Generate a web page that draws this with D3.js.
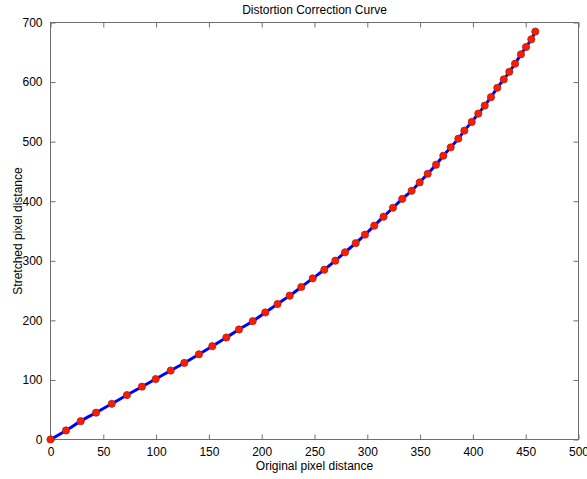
<!DOCTYPE html>
<html><head><meta charset="utf-8">
<script src="https://cdn.jsdelivr.net/npm/d3@7"></script>
<style>body{margin:0;background:#fff}svg{display:block}text{font-family:"Liberation Sans",Arial,sans-serif}</style>
</head><body><svg id="c" width="587" height="479"></svg>
<script>
const xValues = [0, 14.7, 28.6, 43.1, 58.0, 72.4, 86.6, 99.6, 113.8, 126.7, 140.6, 153.2, 166.5, 178.5, 191.5, 203.4, 215, 226.5, 237.5, 248.3, 259.3, 269.7, 278.9, 289.0, 297.8, 306.6, 315.4, 324.3, 333.1, 342.0, 349.6, 357.2, 365.1, 372.0, 379.0, 386.2, 391.9, 398.9, 405.1, 411.2, 417.1, 423.1, 429.2, 434.5, 439.9, 445.5, 450.3, 455.3, 459.1];
const yValues = [0, 15.2, 30.8, 45, 60, 74.6, 88.7, 101.5, 115.7, 128.5, 143.1, 156.6, 171.2, 184.7, 198.7, 213.3, 227.5, 241.5, 256, 270.5, 285.0, 300.2, 314.3, 329.5, 343.9, 359, 374, 389, 404.0, 417.5, 431.5, 446.1, 461.3, 476.4, 490.4, 505.0, 518.5, 533.1, 547.1, 560.6, 574.6, 590.4, 604.4, 617.3, 630.8, 646.5, 658.8, 671.7, 684.7];
const xTicks = [0, 50, 100, 150, 200, 250, 300, 350, 400, 450, 500];
const yTicks = [0, 100, 200, 300, 400, 500, 600, 700];
const title = "Distortion Correction Curve";
const xLabel = "Original pixel distance";
const yLabel = "Stretched pixel distance";

const svg = d3.select("#c");
const L = 50.5, R = 578.5, T = 22.5, B = 439.5;
const x = d3.scaleLinear().domain([0, 500]).range([L, R]);
const y = d3.scaleLinear().domain([0, 700]).range([B, T]);
const data = xValues.map((v, i) => [v, yValues[i]]);
const axCol = "#6e6e6e";

function styleAxis(g, hideText) {
  g.select(".domain").remove();
  g.selectAll(".tick line").attr("stroke", axCol);
  g.selectAll(".tick text").attr("fill", "#000").style("font-size", "12px");
  if (hideText) g.selectAll(".tick text").remove();
}
svg.append("g").attr("transform", `translate(0,${B})`)
  .call(d3.axisBottom(x).tickValues(xTicks).tickSize(-5).tickPadding(8).tickFormat(d3.format("d")))
  .call(g => styleAxis(g, false));
svg.append("g").attr("transform", `translate(0,${T})`)
  .call(d3.axisTop(x).tickValues(xTicks).tickSize(-5))
  .call(g => styleAxis(g, true));
svg.append("g").attr("transform", `translate(${L},0)`)
  .call(d3.axisLeft(y).tickValues(yTicks).tickSize(-5).tickPadding(8).tickFormat(d3.format("d")))
  .call(g => styleAxis(g, false));
svg.append("g").attr("transform", `translate(${R},0)`)
  .call(d3.axisRight(y).tickValues(yTicks).tickSize(-5))
  .call(g => styleAxis(g, true));
svg.append("rect").attr("x", L).attr("y", T).attr("width", R - L).attr("height", B - T)
  .attr("fill", "none").attr("stroke", axCol).attr("stroke-width", 1);

svg.append("path").datum(data)
  .attr("d", d3.line().x(d => x(d[0])).y(d => y(d[1])).curve(d3.curveMonotoneX))
  .attr("fill", "none").attr("stroke", "#0000ff").attr("stroke-width", 3);

svg.append("g").selectAll("circle").data(data).join("circle")
  .attr("cx", d => x(d[0])).attr("cy", d => y(d[1])).attr("r", 3.6)
  .attr("fill", "#ff1a00").attr("stroke", "#a02a10").attr("stroke-width", 0.8);

svg.append("text").attr("x", (L + R) / 2).attr("y", 14).attr("text-anchor", "middle")
  .style("font-size", "12px").text(title);
svg.append("text").attr("x", (L + R) / 2).attr("y", 470).attr("text-anchor", "middle")
  .style("font-size", "12px").text(xLabel);
svg.append("text").attr("transform", `translate(22,${(T + B) / 2}) rotate(-90)`).attr("text-anchor", "middle")
  .style("font-size", "12px").text(yLabel);
</script></body></html>
